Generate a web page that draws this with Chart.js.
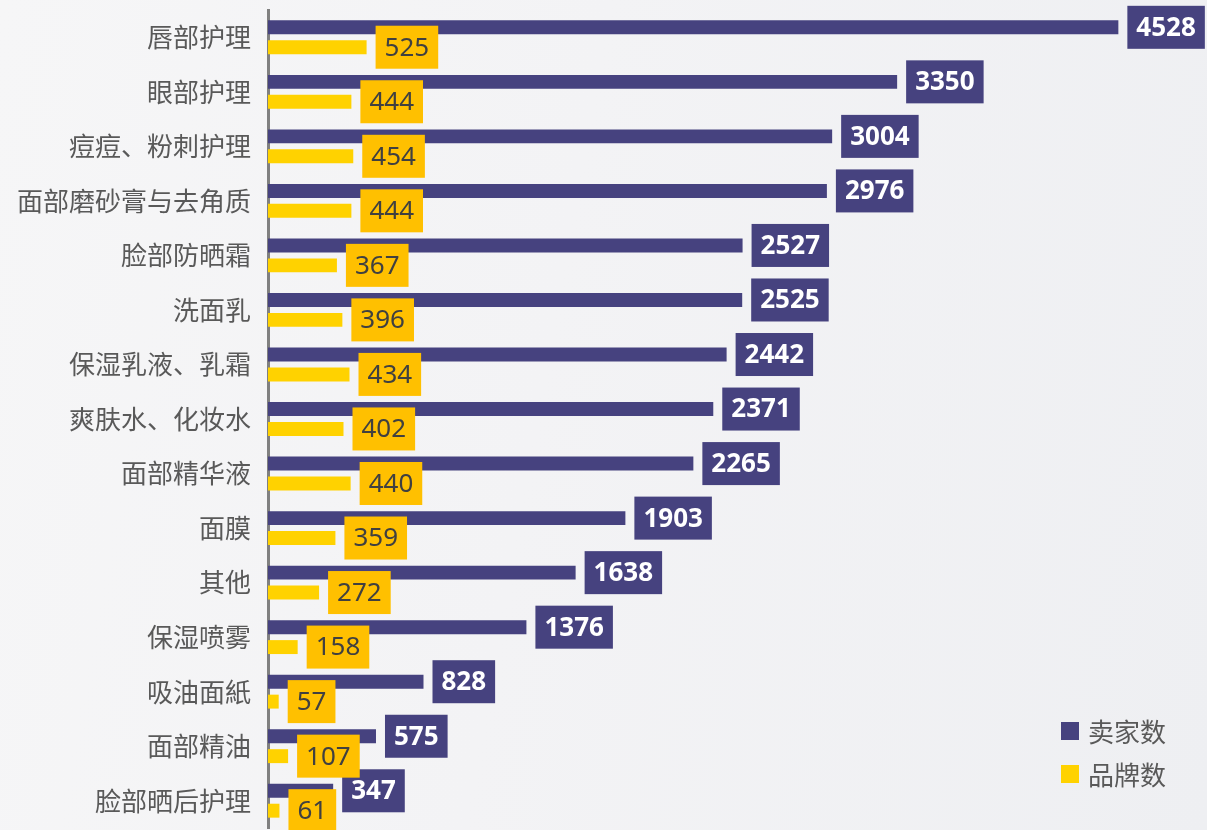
<!DOCTYPE html>
<html>
<head>
<meta charset="utf-8">
<script src="https://cdn.jsdelivr.net/npm/chart.js@4.4.1/dist/chart.umd.min.js"></script>
<style>
  html, body { margin: 0; padding: 0; }
  body {
    width: 1207px; height: 830px; overflow: hidden;
    background: linear-gradient(100deg, #f6f6f7 0%, #f3f3f5 45%, #eeeff2 100%);
  }
  #wrap { position: relative; width: 1207px; height: 830px; }
</style>
</head>
<body>
<div id="wrap"><canvas id="c" width="1207" height="830"></canvas></div>
<script>
const categories = ['唇部护理', '眼部护理', '痘痘、粉刺护理', '面部磨砂膏与去角质', '脸部防晒霜', '洗面乳',
  '保湿乳液、乳霜', '爽肤水、化妆水', '面部精华液', '面膜', '其他', '保湿喷雾', '吸油面紙', '面部精油', '脸部晒后护理'];
const sellers = [4528, 3350, 3004, 2976, 2527, 2525, 2442, 2371, 2265, 1903, 1638, 1376, 828, 575, 347];
const brands = [525, 444, 454, 444, 367, 396, 434, 402, 440, 359, 272, 158, 57, 107, 61];
const seriesNames = ['卖家数', '品牌数'];

const NAVY = '#46427f';
const YELLOW = '#ffd200';
const YELLOW_BOX = '#ffc000';
const CJK = '"Noto Sans CJK SC", "Noto Sans", sans-serif';

// Plugin : boîtes de valeurs au bout des barres + légende en bas à droite
const valueBoxes = {
  id: 'valueBoxes',
  afterDatasetsDraw(chart) {
    const { ctx } = chart;
    const styles = [
      { bg: NAVY, fg: '#ffffff', font: 'bold 26px "Noto Sans", sans-serif' },
      { bg: YELLOW_BOX, fg: '#404040', font: '26px "Noto Sans", sans-serif' },
    ];
    ctx.save();
    chart.data.datasets.forEach((ds, di) => {
      const meta = chart.getDatasetMeta(di);
      const st = styles[di];
      ctx.font = st.font;
      meta.data.forEach((bar, i) => {
        const txt = String(ds.data[i]);
        const w = ctx.measureText(txt).width + 18;
        const h = 43;
        const x = bar.x + 9;
        const y = bar.y - h / 2;
        ctx.fillStyle = st.bg;
        ctx.fillRect(x, y, w, h);
        ctx.fillStyle = st.fg;
        ctx.textAlign = 'center';
        ctx.textBaseline = 'middle';
        ctx.fillText(txt, x + w / 2, bar.y + 1);
      });
    });

    // légende
    const items = [
      { label: seriesNames[0], color: NAVY, y: 731 },
      { label: seriesNames[1], color: YELLOW, y: 774 },
    ];
    ctx.font = '26px ' + CJK;
    ctx.textAlign = 'left';
    ctx.textBaseline = 'middle';
    items.forEach(it => {
      ctx.fillStyle = it.color;
      ctx.fillRect(1061, it.y - 9, 18, 18);
      ctx.fillStyle = '#595959';
      ctx.fillText(it.label, 1088, it.y + 1);
    });
    ctx.restore();
  },
};

new Chart(document.getElementById('c'), {
  type: 'bar',
  plugins: [valueBoxes],
  data: {
    labels: categories,
    datasets: [
      { label: seriesNames[0], data: sellers, backgroundColor: NAVY },
      { label: seriesNames[1], data: brands, backgroundColor: YELLOW },
    ],
  },
  options: {
    indexAxis: 'y',
    responsive: false,
    animation: false,
    categoryPercentage: 0.73,
    barPercentage: 0.7,
    layout: { padding: { top: 10, bottom: 2, left: 0, right: 0 } },
    plugins: {
      legend: { display: false },
      tooltip: { enabled: false },
    },
    scales: {
      x: {
        display: false,
        min: 0,
        max: 5000,
      },
      y: {
        afterFit: s => {
          s.width = 268;
          s.paddingTop = 0;
          s.paddingBottom = 0;
        },
        grid: { display: false, drawTicks: false },
        border: { display: true, color: '#808080', width: 3 },
        ticks: {
          color: '#595959',
          padding: 17,
          font: { family: CJK, size: 26 },
        },
      },
    },
  },
});
</script>
</body>
</html>
